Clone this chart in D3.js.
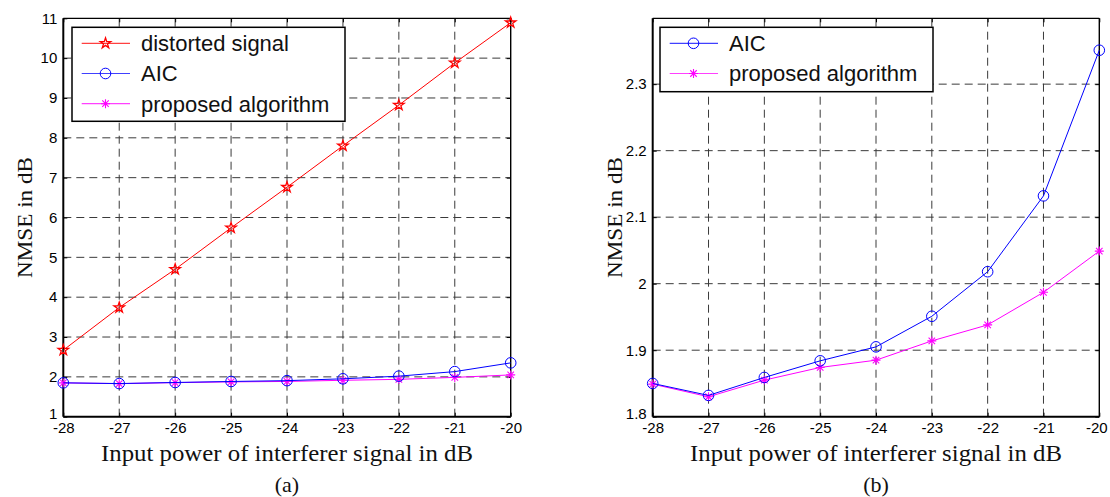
<!DOCTYPE html>
<html>
<head>
<meta charset="utf-8">
<script src="https://cdn.jsdelivr.net/npm/d3@7"></script>
<style>
  html, body { margin: 0; padding: 0; background: #fff; }
  svg { display: block; }
</style>
</head>
<body>
<svg id="chart" width="1110" height="497"></svg>
<script>
// ---------------- data ----------------
const xValues = [-28, -27, -26, -25, -24, -23, -22, -21, -20];
const distortedSignal = [2.67, 3.74, 4.70, 5.74, 6.76, 7.80, 8.82, 9.88, 10.89];
const aicValues = [1.850, 1.832, 1.859, 1.884, 1.905, 1.951, 2.018, 2.132, 2.351];
const proposedValues = [1.849, 1.830, 1.855, 1.874, 1.885, 1.914, 1.938, 1.987, 2.049];
const xTicks = [-28, -27, -26, -25, -24, -23, -22, -21, -20];
const yTicksA = [1, 2, 3, 4, 5, 6, 7, 8, 9, 10, 11];
const yTicksB = [1.8, 1.9, 2.0, 2.1, 2.2, 2.3];
const xLabel = "Input power of interferer signal in dB";
const yLabel = "NMSE in dB";

// ---------------- layout ----------------
const svg = d3.select("#chart");
svg.append("rect").attr("width", 1110).attr("height", 497).attr("fill", "#fff");

const TOP = 18.3, BOTTOM = 416.7;
const panels = [
  { left: 63.3, right: 510.7, yDomain: [1, 11], yTicks: yTicksA, caption: "(a)",
    series: [
      { name: "distorted signal", values: distortedSignal, color: "#ff0000", marker: "star" },
      { name: "AIC", values: aicValues, color: "#0000ff", marker: "circle" },
      { name: "proposed algorithm", values: proposedValues, color: "#ff00ff", marker: "asterisk" }
    ],
    legend: { x: 72, y: 27.3, w: 273, h: 94 } },
  { left: 652.7, right: 1099.3, yDomain: [1.8, 2.399], yTicks: yTicksB, caption: "(b)",
    series: [
      { name: "AIC", values: aicValues, color: "#0000ff", marker: "circle" },
      { name: "proposed algorithm", values: proposedValues, color: "#ff00ff", marker: "asterisk" }
    ],
    legend: { x: 660, y: 27.3, w: 273, h: 64.4 } }
];

const tickFont = "'Liberation Sans', Arial, sans-serif";
const serifFont = "'Liberation Serif', 'Times New Roman', serif";

function drawMarker(g, type, cx, cy, color) {
  if (type === "circle") {
    g.append("circle").attr("cx", cx).attr("cy", cy).attr("r", 5.3)
      .attr("fill", "none").attr("stroke", color).attr("stroke-width", 1);
  } else if (type === "star") {
    g.append("path").attr("d", d3.symbol().type(d3.symbolStar).size(34)())
      .attr("transform", `translate(${cx},${cy})`)
      .attr("fill", "none").attr("stroke", color).attr("stroke-width", 1.3);
  } else if (type === "asterisk") {
    const r = 4.5, d = r * 0.72;
    const p = `M${cx - r},${cy}L${cx + r},${cy}M${cx},${cy - r}L${cx},${cy + r}` +
              `M${cx - d},${cy - d}L${cx + d},${cy + d}M${cx - d},${cy + d}L${cx + d},${cy - d}`;
    g.append("path").attr("d", p).attr("stroke", color).attr("stroke-width", 1.1).attr("fill", "none");
  }
}

panels.forEach((p, pi) => {
  const x = d3.scaleLinear().domain([-28, -20]).range([p.left, p.right]);
  const y = d3.scaleLinear().domain(p.yDomain).range([BOTTOM, TOP]);
  const g = svg.append("g");

  // grid
  const grid = g.append("g").attr("stroke", "#3a3a3a").attr("stroke-width", 1)
    .attr("stroke-dasharray", "8,5");
  xTicks.slice(1, -1).forEach(t => {
    grid.append("line").attr("x1", x(t)).attr("x2", x(t)).attr("y1", BOTTOM).attr("y2", TOP);
  });
  p.yTicks.forEach(t => {
    if (Math.abs(y(t) - BOTTOM) < 1 || Math.abs(y(t) - TOP) < 1) return;
    grid.append("line").attr("x1", p.left).attr("x2", p.right).attr("y1", y(t)).attr("y2", y(t));
  });

  // axes via d3 axis
  const xAxis = d3.axisBottom(x).tickValues(xTicks).tickSize(-4).tickPadding(6)
    .tickFormat(d => String(d));
  const gx = g.append("g").attr("transform", `translate(0,${BOTTOM})`).call(xAxis);
  const yAxis = d3.axisLeft(y).tickValues(p.yTicks).tickSize(-4).tickPadding(6)
    .tickFormat(d => String(+d.toFixed(1)));
  const gy = g.append("g").attr("transform", `translate(${p.left},0)`).call(yAxis);
  [gx, gy].forEach(a => {
    a.select(".domain").remove();
    a.selectAll("line").attr("stroke", "#000");
    a.selectAll("text").attr("font-family", tickFont).attr("font-size", 15).attr("fill", "#000");
  });
  gx.selectAll("text").attr("dy", "0.71em");
  if (pi === 1) gx.selectAll("text").filter(d => d === -20).attr("dx", -3);
  gy.selectAll("text").filter((d, i) => i === 0).attr("dy", "0.1em");
  // right / top ticks
  const yR = d3.axisRight(y).tickValues(p.yTicks).tickSize(-4).tickFormat("");
  const gyr = g.append("g").attr("transform", `translate(${p.right},0)`).call(yR);
  gyr.select(".domain").remove(); gyr.selectAll("line").attr("stroke", "#000");
  const xT = d3.axisTop(x).tickValues(xTicks).tickSize(-4).tickFormat("");
  const gxt = g.append("g").attr("transform", `translate(0,${TOP})`).call(xT);
  gxt.select(".domain").remove(); gxt.selectAll("line").attr("stroke", "#000");

  // box
  g.append("line").attr("x1", p.left).attr("x2", p.right).attr("y1", TOP).attr("y2", TOP)
    .attr("stroke", "#000").attr("stroke-width", 1.2);
  g.append("line").attr("x1", p.right).attr("x2", p.right).attr("y1", TOP).attr("y2", BOTTOM)
    .attr("stroke", "#000").attr("stroke-width", 1.4);
  g.append("line").attr("x1", p.left).attr("x2", p.right).attr("y1", BOTTOM).attr("y2", BOTTOM)
    .attr("stroke", "#000").attr("stroke-width", 2);
  g.append("line").attr("x1", p.left).attr("x2", p.left).attr("y1", TOP).attr("y2", BOTTOM)
    .attr("stroke", "#000").attr("stroke-width", 2);

  // series
  const line = d3.line().x((d, i) => x(xValues[i])).y(d => y(d));
  p.series.slice().reverse().forEach(s => {
    g.append("path").datum(s.values).attr("d", line)
      .attr("fill", "none").attr("stroke", s.color).attr("stroke-width", 1);
    const mg = g.append("g");
    s.values.forEach((v, i) => drawMarker(mg, s.marker, x(xValues[i]), y(v), s.color));
  });

  // legend
  const L = p.legend;
  const lg = g.append("g");
  lg.append("rect").attr("x", L.x).attr("y", L.y).attr("width", L.w).attr("height", L.h)
    .attr("fill", "#fff").attr("stroke", "#000").attr("stroke-width", 1.5);
  p.series.forEach((s, i) => {
    const cy = L.y + 16 + i * 30.2;
    lg.append("line").attr("x1", L.x + 9.7).attr("x2", L.x + 58).attr("y1", cy).attr("y2", cy)
      .attr("stroke", s.color).attr("stroke-width", 1.2).attr("stroke-opacity", 0.75);
    drawMarker(lg, s.marker, L.x + 33.5, cy, s.color);
    lg.append("text").attr("x", L.x + 69).attr("y", cy).attr("dy", "0.36em")
      .attr("font-family", tickFont).attr("font-size", 22).attr("fill", "#111").text(s.name);
  });

  // labels
  const cx = (p.left + p.right) / 2;
  g.append("text").attr("x", cx).attr("y", 461).attr("text-anchor", "middle")
    .attr("font-family", serifFont).attr("font-size", 23).attr("fill", "#111")
    .attr("textLength", 372).attr("lengthAdjust", "spacingAndGlyphs").text(xLabel);
  g.append("text").attr("x", cx).attr("y", 492).attr("text-anchor", "middle")
    .attr("font-family", serifFont).attr("font-size", 22).attr("fill", "#111").text(p.caption);
  const ly = (TOP + BOTTOM) / 2;
  g.append("text").attr("transform", `translate(${p.left - 31},${ly}) rotate(-90)`)
    .attr("text-anchor", "middle").attr("font-family", serifFont).attr("font-size", 22)
    .attr("fill", "#111").attr("textLength", 121).attr("lengthAdjust", "spacingAndGlyphs")
    .text(yLabel);
});
</script>
</body>
</html>
